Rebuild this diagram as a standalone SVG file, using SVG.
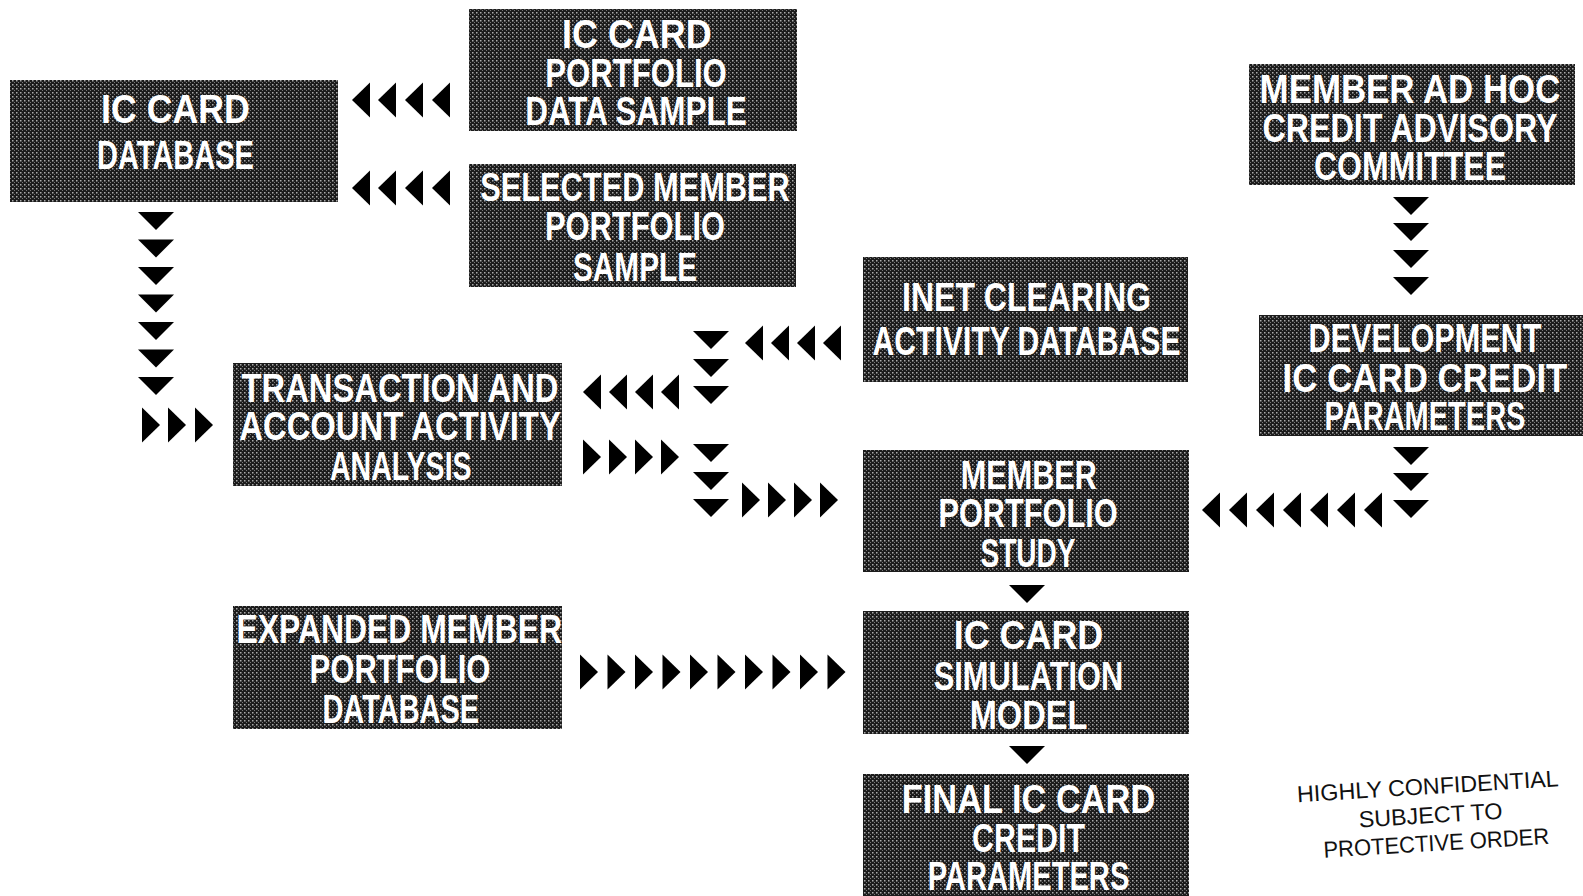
<svg xmlns="http://www.w3.org/2000/svg" width="1583" height="896" viewBox="0 0 1583 896">
<defs>
<pattern id="ht" width="4" height="4" patternUnits="userSpaceOnUse">
<rect width="4" height="4" fill="#1c1c1c"/>
<rect x="0" y="0" width="1.5" height="1.5" fill="#ababab"/>
<rect x="2" y="2" width="1" height="1" fill="#7a7a7a"/>
</pattern>
<path id="tl" d="M0,0 L18,-17.5 L18,17.5 Z"/>
<path id="tr" d="M0,-17.5 L18,0 L0,17.5 Z"/>
<path id="td" d="M-18,0 L18,0 L0,18 Z"/>
</defs>
<style>
.box{fill:url(#ht);}
.t{font-family:"Liberation Sans",Arial,sans-serif;font-weight:bold;font-size:41px;fill:#fff;text-anchor:middle;}
.s{font-family:"Liberation Sans",Arial,sans-serif;font-size:23px;fill:#111;text-anchor:middle;}
.c use{fill:#000;}
</style>
<rect width="1583" height="896" fill="#fff"/>

<g id="n1"><rect class="box" x="10" y="80" width="328" height="122"/>
<text class="t" transform="translate(175.5 0) scale(0.8 1)"><tspan x="0" y="123" textLength="186" lengthAdjust="spacingAndGlyphs">IC CARD</tspan><tspan x="0" y="169" textLength="196" lengthAdjust="spacingAndGlyphs">DATABASE</tspan></text></g>

<g id="n2"><rect class="box" x="469" y="9" width="328" height="122"/>
<text class="t" transform="translate(636 0) scale(0.8 1)"><tspan x="1" y="48" textLength="187" lengthAdjust="spacingAndGlyphs">IC CARD</tspan><tspan x="0" y="87" textLength="227" lengthAdjust="spacingAndGlyphs">PORTFOLIO</tspan><tspan x="0" y="125" textLength="277" lengthAdjust="spacingAndGlyphs">DATA SAMPLE</tspan></text></g>

<g id="n3"><rect class="box" x="469" y="164" width="327" height="123"/>
<text class="t" transform="translate(635 0) scale(0.8 1)"><tspan x="0" y="201" textLength="387" lengthAdjust="spacingAndGlyphs">SELECTED MEMBER</tspan><tspan x="0" y="240" textLength="225" lengthAdjust="spacingAndGlyphs">PORTFOLIO</tspan><tspan x="0" y="281" textLength="155" lengthAdjust="spacingAndGlyphs">SAMPLE</tspan></text></g>

<g id="n4"><rect class="box" x="1249" y="64" width="326" height="121"/>
<text class="t" transform="translate(1410 0) scale(0.8 1)"><tspan x="0" y="103" textLength="376" lengthAdjust="spacingAndGlyphs">MEMBER AD HOC</tspan><tspan x="0" y="142" textLength="369" lengthAdjust="spacingAndGlyphs">CREDIT ADVISORY</tspan><tspan x="0" y="180" textLength="240" lengthAdjust="spacingAndGlyphs">COMMITTEE</tspan></text></g>

<g id="n5"><rect class="box" x="863" y="257" width="325" height="125"/>
<text class="t" transform="translate(1026.5 0) scale(0.8 1)"><tspan x="0" y="311" textLength="311" lengthAdjust="spacingAndGlyphs">INET CLEARING</tspan><tspan x="0" y="355" textLength="385" lengthAdjust="spacingAndGlyphs">ACTIVITY DATABASE</tspan></text></g>

<g id="n6"><rect class="box" x="1259" y="315" width="324" height="121"/>
<text class="t" transform="translate(1425 0) scale(0.8 1)"><tspan x="0" y="352" textLength="291" lengthAdjust="spacingAndGlyphs">DEVELOPMENT</tspan><tspan x="0" y="392" textLength="356" lengthAdjust="spacingAndGlyphs">IC CARD CREDIT</tspan><tspan x="0" y="430" textLength="251" lengthAdjust="spacingAndGlyphs">PARAMETERS</tspan></text></g>

<g id="n7"><rect class="box" x="233" y="363" width="329" height="123"/>
<text class="t" transform="translate(400 0) scale(0.8 1)"><tspan x="0" y="402" textLength="396" lengthAdjust="spacingAndGlyphs">TRANSACTION AND</tspan><tspan x="0" y="440" textLength="402" lengthAdjust="spacingAndGlyphs">ACCOUNT ACTIVITY</tspan><tspan x="1" y="480" textLength="177" lengthAdjust="spacingAndGlyphs">ANALYSIS</tspan></text></g>

<g id="n8"><rect class="box" x="863" y="450" width="326" height="122"/>
<text class="t" transform="translate(1028 0) scale(0.8 1)"><tspan x="1" y="489" textLength="170" lengthAdjust="spacingAndGlyphs">MEMBER</tspan><tspan x="0" y="527" textLength="224" lengthAdjust="spacingAndGlyphs">PORTFOLIO</tspan><tspan x="0" y="567" textLength="119" lengthAdjust="spacingAndGlyphs">STUDY</tspan></text></g>

<g id="n9"><rect class="box" x="233" y="606" width="329" height="123"/>
<text class="t" transform="translate(400 0) scale(0.8 1)"><tspan x="-1" y="643" textLength="407" lengthAdjust="spacingAndGlyphs">EXPANDED MEMBER</tspan><tspan x="0" y="683" textLength="226" lengthAdjust="spacingAndGlyphs">PORTFOLIO</tspan><tspan x="1" y="723" textLength="196" lengthAdjust="spacingAndGlyphs">DATABASE</tspan></text></g>

<g id="n10"><rect class="box" x="863" y="611" width="326" height="123"/>
<text class="t" transform="translate(1028.5 0) scale(0.8 1)"><tspan x="0" y="649" textLength="187" lengthAdjust="spacingAndGlyphs">IC CARD</tspan><tspan x="0" y="690" textLength="237" lengthAdjust="spacingAndGlyphs">SIMULATION</tspan><tspan x="0" y="729" textLength="147" lengthAdjust="spacingAndGlyphs">MODEL</tspan></text></g>

<g id="n11"><rect class="box" x="863" y="774" width="326" height="122"/>
<text class="t" transform="translate(1028.5 0) scale(0.8 1)"><tspan x="0" y="813" textLength="317" lengthAdjust="spacingAndGlyphs">FINAL IC CARD</tspan><tspan x="0" y="852" textLength="141" lengthAdjust="spacingAndGlyphs">CREDIT</tspan><tspan x="0" y="890" textLength="252" lengthAdjust="spacingAndGlyphs">PARAMETERS</tspan></text></g>

<g id="connectors" class="c">
<use href="#tl" x="352" y="100"/><use href="#tl" x="378" y="100"/><use href="#tl" x="405" y="100"/><use href="#tl" x="432" y="100"/>
<use href="#tl" x="352" y="188"/><use href="#tl" x="378" y="188"/><use href="#tl" x="405" y="188"/><use href="#tl" x="432" y="188"/>
<use href="#td" x="156" y="212"/><use href="#td" x="156" y="239.5"/><use href="#td" x="156" y="267"/><use href="#td" x="156" y="294.5"/><use href="#td" x="156" y="322"/><use href="#td" x="156" y="349.5"/><use href="#td" x="156" y="377"/>
<use href="#tr" x="142" y="425"/><use href="#tr" x="168" y="425"/><use href="#tr" x="195" y="425"/>
<use href="#tl" x="745" y="343"/><use href="#tl" x="771" y="343"/><use href="#tl" x="797" y="343"/><use href="#tl" x="823" y="343"/>
<use href="#td" x="711" y="331"/><use href="#td" x="711" y="359"/><use href="#td" x="711" y="386"/>
<use href="#tl" x="583" y="392"/><use href="#tl" x="609" y="392"/><use href="#tl" x="635" y="392"/><use href="#tl" x="661" y="392"/>
<use href="#tr" x="583" y="457"/><use href="#tr" x="609" y="457"/><use href="#tr" x="635" y="457"/><use href="#tr" x="661" y="457"/>
<use href="#td" x="711" y="444"/><use href="#td" x="711" y="472"/><use href="#td" x="711" y="499"/>
<use href="#tr" x="742" y="500"/><use href="#tr" x="768" y="500"/><use href="#tr" x="794" y="500"/><use href="#tr" x="820" y="500"/>
<use href="#td" x="1411" y="197"/><use href="#td" x="1411" y="223"/><use href="#td" x="1411" y="250"/><use href="#td" x="1411" y="277"/>
<use href="#td" x="1411" y="447"/><use href="#td" x="1411" y="473"/><use href="#td" x="1411" y="500"/>
<use href="#tl" x="1202" y="510"/><use href="#tl" x="1229" y="510"/><use href="#tl" x="1256" y="510"/><use href="#tl" x="1283" y="510"/><use href="#tl" x="1310" y="510"/><use href="#tl" x="1337" y="510"/><use href="#tl" x="1364" y="510"/>
<use href="#td" x="1027" y="585"/>
<use href="#tr" x="580" y="672"/><use href="#tr" x="607.5" y="672"/><use href="#tr" x="635" y="672"/><use href="#tr" x="662.5" y="672"/><use href="#tr" x="690" y="672"/><use href="#tr" x="717.5" y="672"/><use href="#tr" x="745" y="672"/><use href="#tr" x="772.5" y="672"/><use href="#tr" x="800" y="672"/><use href="#tr" x="827.5" y="672"/>
<use href="#td" x="1027" y="746"/>
</g>

<g id="stamp" transform="rotate(-3.5 1432 822)">
<text class="s"><tspan x="1430" y="794" textLength="262" lengthAdjust="spacingAndGlyphs">HIGHLY CONFIDENTIAL</tspan><tspan x="1431" y="823" textLength="144" lengthAdjust="spacingAndGlyphs">SUBJECT TO</tspan><tspan x="1435" y="851" textLength="226" lengthAdjust="spacingAndGlyphs">PROTECTIVE ORDER</tspan></text>
</g>
</svg>
